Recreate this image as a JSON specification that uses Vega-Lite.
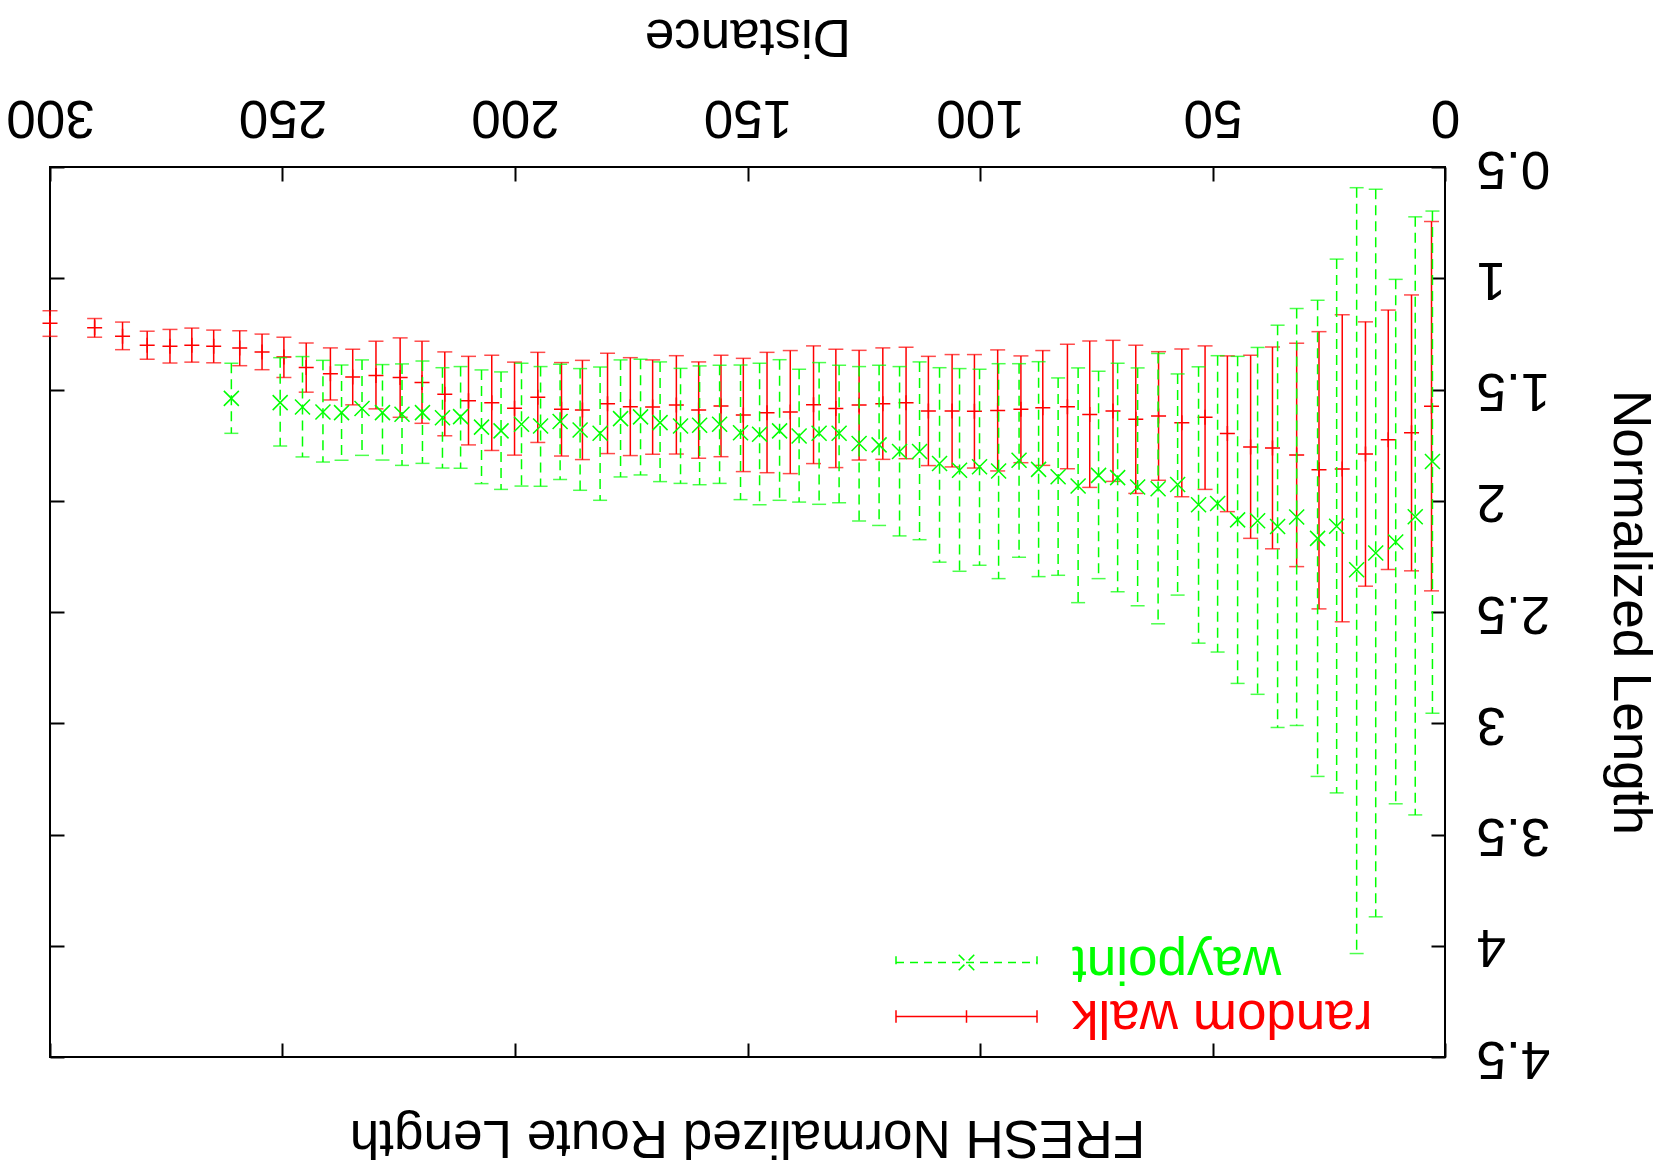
{
  "$schema": "https://vega.github.io/schema/vega-lite/v6.json",
  "width": 1395,
  "height": 890,
  "autosize": "none",
  "padding": {"left": 50, "top": 167, "right": 215, "bottom": 114},
  "config": {
    "view": {"stroke": "black", "strokeWidth": 2},
    "font": "Liberation Sans"
  },
  "title": {
    "text": "FRESH Normalized Route Length",
    "orient": "bottom",
    "angle": 180,
    "baseline": "middle",
    "offset": 54,
    "fontSize": 53,
    "fontWeight": "normal",
    "font": "Liberation Sans",
    "color": "black"
  },
  "data": {
    "values": [
      {"series": "random walk", "distance": 300, "mean": 1.202, "low": 1.146, "high": 1.261},
      {"series": "random walk", "distance": 290.4, "mean": 1.223, "low": 1.181, "high": 1.265},
      {"series": "random walk", "distance": 284.4, "mean": 1.261, "low": 1.197, "high": 1.321},
      {"series": "random walk", "distance": 279.1, "mean": 1.301, "low": 1.238, "high": 1.364},
      {"series": "random walk", "distance": 274.2, "mean": 1.306, "low": 1.23, "high": 1.381},
      {"series": "random walk", "distance": 269.5, "mean": 1.301, "low": 1.224, "high": 1.377},
      {"series": "random walk", "distance": 264.8, "mean": 1.306, "low": 1.233, "high": 1.38},
      {"series": "random walk", "distance": 259.2, "mean": 1.313, "low": 1.236, "high": 1.393},
      {"series": "random walk", "distance": 254.4, "mean": 1.331, "low": 1.251, "high": 1.411},
      {"series": "random walk", "distance": 249.7, "mean": 1.354, "low": 1.265, "high": 1.446},
      {"series": "random walk", "distance": 244.9, "mean": 1.401, "low": 1.291, "high": 1.512},
      {"series": "random walk", "distance": 239.7, "mean": 1.429, "low": 1.313, "high": 1.547},
      {"series": "random walk", "distance": 234.9, "mean": 1.444, "low": 1.319, "high": 1.569},
      {"series": "random walk", "distance": 229.9, "mean": 1.437, "low": 1.283, "high": 1.587},
      {"series": "random walk", "distance": 224.7, "mean": 1.446, "low": 1.268, "high": 1.625},
      {"series": "random walk", "distance": 220.0, "mean": 1.468, "low": 1.283, "high": 1.652},
      {"series": "random walk", "distance": 215.1, "mean": 1.521, "low": 1.331, "high": 1.708},
      {"series": "random walk", "distance": 210.0, "mean": 1.55, "low": 1.351, "high": 1.749},
      {"series": "random walk", "distance": 205.0, "mean": 1.56, "low": 1.346, "high": 1.774},
      {"series": "random walk", "distance": 200.1, "mean": 1.584, "low": 1.377, "high": 1.795},
      {"series": "random walk", "distance": 195.1, "mean": 1.535, "low": 1.333, "high": 1.738},
      {"series": "random walk", "distance": 190.0, "mean": 1.589, "low": 1.379, "high": 1.799},
      {"series": "random walk", "distance": 185.5, "mean": 1.592, "low": 1.369, "high": 1.815},
      {"series": "random walk", "distance": 180.1, "mean": 1.564, "low": 1.337, "high": 1.788},
      {"series": "random walk", "distance": 175.2, "mean": 1.577, "low": 1.357, "high": 1.797},
      {"series": "random walk", "distance": 170.4, "mean": 1.579, "low": 1.367, "high": 1.791},
      {"series": "random walk", "distance": 165.3, "mean": 1.57, "low": 1.348, "high": 1.79},
      {"series": "random walk", "distance": 160.5, "mean": 1.592, "low": 1.376, "high": 1.809},
      {"series": "random walk", "distance": 155.7, "mean": 1.574, "low": 1.346, "high": 1.802},
      {"series": "random walk", "distance": 150.9, "mean": 1.615, "low": 1.36, "high": 1.869},
      {"series": "random walk", "distance": 145.8, "mean": 1.604, "low": 1.333, "high": 1.874},
      {"series": "random walk", "distance": 140.8, "mean": 1.601, "low": 1.325, "high": 1.878},
      {"series": "random walk", "distance": 135.8, "mean": 1.568, "low": 1.304, "high": 1.833},
      {"series": "random walk", "distance": 131.0, "mean": 1.585, "low": 1.319, "high": 1.851},
      {"series": "random walk", "distance": 126.0, "mean": 1.57, "low": 1.324, "high": 1.817},
      {"series": "random walk", "distance": 120.9, "mean": 1.564, "low": 1.313, "high": 1.814},
      {"series": "random walk", "distance": 115.9, "mean": 1.559, "low": 1.31, "high": 1.811},
      {"series": "random walk", "distance": 111.1, "mean": 1.597, "low": 1.351, "high": 1.842},
      {"series": "random walk", "distance": 106.0, "mean": 1.597, "low": 1.343, "high": 1.848},
      {"series": "random walk", "distance": 101.2, "mean": 1.598, "low": 1.343, "high": 1.853},
      {"series": "random walk", "distance": 96.2, "mean": 1.594, "low": 1.322, "high": 1.866},
      {"series": "random walk", "distance": 91.2, "mean": 1.589, "low": 1.349, "high": 1.829},
      {"series": "random walk", "distance": 86.5, "mean": 1.582, "low": 1.325, "high": 1.841},
      {"series": "random walk", "distance": 81.2, "mean": 1.577, "low": 1.297, "high": 1.856},
      {"series": "random walk", "distance": 76.4, "mean": 1.612, "low": 1.282, "high": 1.94},
      {"series": "random walk", "distance": 71.4, "mean": 1.597, "low": 1.279, "high": 1.913},
      {"series": "random walk", "distance": 66.5, "mean": 1.634, "low": 1.301, "high": 1.967},
      {"series": "random walk", "distance": 61.6, "mean": 1.619, "low": 1.33, "high": 1.908},
      {"series": "random walk", "distance": 56.6, "mean": 1.649, "low": 1.318, "high": 1.982},
      {"series": "random walk", "distance": 51.6, "mean": 1.625, "low": 1.304, "high": 1.949},
      {"series": "random walk", "distance": 46.8, "mean": 1.698, "low": 1.349, "high": 2.049},
      {"series": "random walk", "distance": 41.8, "mean": 1.758, "low": 1.346, "high": 2.169},
      {"series": "random walk", "distance": 37.1, "mean": 1.763, "low": 1.309, "high": 2.216},
      {"series": "random walk", "distance": 31.9, "mean": 1.794, "low": 1.292, "high": 2.296},
      {"series": "random walk", "distance": 27.1, "mean": 1.861, "low": 1.24, "high": 2.486},
      {"series": "random walk", "distance": 22.1, "mean": 1.857, "low": 1.164, "high": 2.544},
      {"series": "random walk", "distance": 17.1, "mean": 1.79, "low": 1.196, "high": 2.384},
      {"series": "random walk", "distance": 12.2, "mean": 1.726, "low": 1.143, "high": 2.309},
      {"series": "random walk", "distance": 7.2, "mean": 1.694, "low": 1.075, "high": 2.315},
      {"series": "random walk", "distance": 2.9, "mean": 1.575, "low": 0.745, "high": 2.405},
      {"series": "waypoint", "distance": 261.0, "mean": 1.54, "low": 1.382, "high": 1.697},
      {"series": "waypoint", "distance": 250.5, "mean": 1.559, "low": 1.357, "high": 1.754},
      {"series": "waypoint", "distance": 245.7, "mean": 1.579, "low": 1.352, "high": 1.803},
      {"series": "waypoint", "distance": 241.3, "mean": 1.601, "low": 1.369, "high": 1.826},
      {"series": "waypoint", "distance": 237.3, "mean": 1.604, "low": 1.39, "high": 1.818},
      {"series": "waypoint", "distance": 232.9, "mean": 1.585, "low": 1.367, "high": 1.796},
      {"series": "waypoint", "distance": 228.5, "mean": 1.604, "low": 1.388, "high": 1.817},
      {"series": "waypoint", "distance": 224.3, "mean": 1.611, "low": 1.385, "high": 1.841},
      {"series": "waypoint", "distance": 219.9, "mean": 1.604, "low": 1.372, "high": 1.832},
      {"series": "waypoint", "distance": 215.6, "mean": 1.627, "low": 1.402, "high": 1.853},
      {"series": "waypoint", "distance": 211.7, "mean": 1.622, "low": 1.397, "high": 1.854},
      {"series": "waypoint", "distance": 207.2, "mean": 1.669, "low": 1.412, "high": 1.923},
      {"series": "waypoint", "distance": 203.0, "mean": 1.686, "low": 1.421, "high": 1.949},
      {"series": "waypoint", "distance": 198.6, "mean": 1.656, "low": 1.382, "high": 1.934},
      {"series": "waypoint", "distance": 194.5, "mean": 1.664, "low": 1.397, "high": 1.935},
      {"series": "waypoint", "distance": 190.3, "mean": 1.644, "low": 1.387, "high": 1.904},
      {"series": "waypoint", "distance": 186.0, "mean": 1.682, "low": 1.406, "high": 1.953},
      {"series": "waypoint", "distance": 181.7, "mean": 1.697, "low": 1.399, "high": 1.998},
      {"series": "waypoint", "distance": 177.3, "mean": 1.631, "low": 1.367, "high": 1.893},
      {"series": "waypoint", "distance": 173.0, "mean": 1.623, "low": 1.364, "high": 1.884},
      {"series": "waypoint", "distance": 168.8, "mean": 1.649, "low": 1.376, "high": 1.914},
      {"series": "waypoint", "distance": 164.4, "mean": 1.664, "low": 1.405, "high": 1.922},
      {"series": "waypoint", "distance": 160.3, "mean": 1.661, "low": 1.394, "high": 1.928},
      {"series": "waypoint", "distance": 156.0, "mean": 1.656, "low": 1.391, "high": 1.922},
      {"series": "waypoint", "distance": 151.5, "mean": 1.694, "low": 1.39, "high": 1.995},
      {"series": "waypoint", "distance": 147.4, "mean": 1.701, "low": 1.382, "high": 2.018},
      {"series": "waypoint", "distance": 143.1, "mean": 1.686, "low": 1.366, "high": 1.998},
      {"series": "waypoint", "distance": 138.9, "mean": 1.709, "low": 1.409, "high": 2.006},
      {"series": "waypoint", "distance": 134.6, "mean": 1.697, "low": 1.379, "high": 2.016},
      {"series": "waypoint", "distance": 130.3, "mean": 1.697, "low": 1.391, "high": 2.009},
      {"series": "waypoint", "distance": 126.0, "mean": 1.743, "low": 1.397, "high": 2.091},
      {"series": "waypoint", "distance": 121.7, "mean": 1.749, "low": 1.391, "high": 2.111},
      {"series": "waypoint", "distance": 117.3, "mean": 1.779, "low": 1.397, "high": 2.158},
      {"series": "waypoint", "distance": 113.0, "mean": 1.779, "low": 1.376, "high": 2.175},
      {"series": "waypoint", "distance": 108.7, "mean": 1.833, "low": 1.402, "high": 2.276},
      {"series": "waypoint", "distance": 104.4, "mean": 1.863, "low": 1.406, "high": 2.317},
      {"series": "waypoint", "distance": 100.1, "mean": 1.847, "low": 1.409, "high": 2.29},
      {"series": "waypoint", "distance": 96.0, "mean": 1.866, "low": 1.384, "high": 2.35},
      {"series": "waypoint", "distance": 91.6, "mean": 1.818, "low": 1.384, "high": 2.254},
      {"series": "waypoint", "distance": 87.4, "mean": 1.859, "low": 1.375, "high": 2.341},
      {"series": "waypoint", "distance": 83.2, "mean": 1.892, "low": 1.448, "high": 2.335},
      {"series": "waypoint", "distance": 78.9, "mean": 1.934, "low": 1.403, "high": 2.458},
      {"series": "waypoint", "distance": 74.5, "mean": 1.886, "low": 1.418, "high": 2.35},
      {"series": "waypoint", "distance": 70.4, "mean": 1.896, "low": 1.382, "high": 2.409},
      {"series": "waypoint", "distance": 66.1, "mean": 1.938, "low": 1.403, "high": 2.472},
      {"series": "waypoint", "distance": 61.7, "mean": 1.946, "low": 1.338, "high": 2.553},
      {"series": "waypoint", "distance": 57.5, "mean": 1.927, "low": 1.43, "high": 2.424},
      {"series": "waypoint", "distance": 53.0, "mean": 2.018, "low": 1.398, "high": 2.64},
      {"series": "waypoint", "distance": 48.9, "mean": 2.012, "low": 1.348, "high": 2.68},
      {"series": "waypoint", "distance": 44.6, "mean": 2.086, "low": 1.351, "high": 2.821},
      {"series": "waypoint", "distance": 40.3, "mean": 2.09, "low": 1.311, "high": 2.87},
      {"series": "waypoint", "distance": 36.0, "mean": 2.116, "low": 1.211, "high": 3.019},
      {"series": "waypoint", "distance": 31.9, "mean": 2.073, "low": 1.136, "high": 3.01},
      {"series": "waypoint", "distance": 27.4, "mean": 2.169, "low": 1.099, "high": 3.239},
      {"series": "waypoint", "distance": 23.3, "mean": 2.115, "low": 0.914, "high": 3.313},
      {"series": "waypoint", "distance": 19.0, "mean": 2.31, "low": 0.593, "high": 4.035},
      {"series": "waypoint", "distance": 14.9, "mean": 2.235, "low": 0.6, "high": 3.87},
      {"series": "waypoint", "distance": 10.6, "mean": 2.185, "low": 1.005, "high": 3.362},
      {"series": "waypoint", "distance": 6.4, "mean": 2.072, "low": 0.724, "high": 3.412},
      {"series": "waypoint", "distance": 2.7, "mean": 1.824, "low": 0.698, "high": 2.955}
    ]
  },
  "resolve": {"axis": {"x": "independent", "y": "independent"}},
  "layer": [
    {
      "transform": [{"filter": "datum.series === 'random walk'"}],
      "mark": {"type": "rule", "color": "#ff0000", "strokeWidth": 1.5},
      "encoding": {
        "x": {
          "field": "distance", "type": "quantitative",
          "scale": {"domain": [0, 300], "reverse": true, "nice": false, "zero": false},
          "axis": {
            "orient": "top", "values": [0, 50, 100, 150, 200, 250, 300], "format": "d",
            "grid": false, "domain": false,
            "tickSize": -14, "tickWidth": 2, "tickColor": "black",
            "labelAngle": 180, "labelAlign": "center", "labelBaseline": "middle",
            "labelPadding": 65, "labelFontSize": 53, "labelFont": "Liberation Sans", "labelColor": "black",
            "labelFlush": false, "labelOverlap": false, "labelBound": false,
            "title": "Distance", "titleAngle": 180, "titleFontSize": 53, "titleFont": "Liberation Sans",
            "titleFontWeight": "normal", "titleColor": "black", "titleBaseline": "middle", "titleAlign": "center", "titleY": -132
          }
        },
        "y": {
          "field": "low", "type": "quantitative",
          "scale": {"domain": [0.5, 4.5], "reverse": true, "nice": false, "zero": false},
          "axis": {
            "orient": "right", "values": [0.5, 1, 1.5, 2, 2.5, 3, 3.5, 4, 4.5], "format": "~g",
            "grid": false, "domain": false,
            "tickSize": -14, "tickWidth": 2, "tickColor": "black",
            "labelAngle": 180, "labelAlign": "right", "labelBaseline": "middle",
            "labelPadding": 45, "labelFontSize": 53, "labelFont": "Liberation Sans", "labelColor": "black",
            "labelFlush": false, "labelOverlap": false, "labelBound": false,
            "title": "Normalized Length", "titleAngle": 90, "titleFontSize": 53, "titleFont": "Liberation Sans",
            "titleFontWeight": "normal", "titleColor": "black", "titleBaseline": "middle", "titleAlign": "center", "titleX": 184
          }
        },
        "y2": {"field": "high"}
      }
    },
    {
      "transform": [{"filter": "datum.series === 'random walk'"}],
      "mark": {"type": "tick", "orient": "horizontal", "color": "#ff0000", "size": 15, "thickness": 1.5},
      "encoding": {
        "x": {"field": "distance", "type": "quantitative", "axis": null},
        "y": {"field": "low", "type": "quantitative", "axis": null}
      }
    },
    {
      "transform": [{"filter": "datum.series === 'random walk'"}],
      "mark": {"type": "tick", "orient": "horizontal", "color": "#ff0000", "size": 15, "thickness": 1.5},
      "encoding": {
        "x": {"field": "distance", "type": "quantitative", "axis": null},
        "y": {"field": "high", "type": "quantitative", "axis": null}
      }
    },
    {
      "transform": [{"filter": "datum.series === 'random walk'"}],
      "mark": {"type": "point", "shape": "M-1,0H1M0,-1V1", "filled": false, "stroke": "#ff0000", "strokeWidth": 1.5, "size": 225, "opacity": 1},
      "encoding": {
        "x": {"field": "distance", "type": "quantitative", "axis": null},
        "y": {"field": "mean", "type": "quantitative", "axis": null}
      }
    },
    {
      "transform": [{"filter": "datum.series === 'waypoint'"}],
      "mark": {"type": "rule", "color": "#00ff00", "strokeWidth": 1.5, "strokeDash": [10, 6]},
      "encoding": {
        "x": {
          "field": "distance", "type": "quantitative",
          "axis": {
            "orient": "bottom", "values": [0, 50, 100, 150, 200, 250, 300],
            "grid": false, "domain": false, "labels": false, "title": null,
            "tickSize": -14, "tickWidth": 2, "tickColor": "black"
          }
        },
        "y": {
          "field": "low", "type": "quantitative",
          "axis": {
            "orient": "left", "values": [0.5, 1, 1.5, 2, 2.5, 3, 3.5, 4, 4.5],
            "grid": false, "domain": false, "labels": false, "title": null,
            "tickSize": -14, "tickWidth": 2, "tickColor": "black"
          }
        },
        "y2": {"field": "high"}
      }
    },
    {
      "transform": [{"filter": "datum.series === 'waypoint'"}],
      "mark": {"type": "tick", "orient": "horizontal", "color": "#00ff00", "size": 14, "thickness": 1.5},
      "encoding": {
        "x": {"field": "distance", "type": "quantitative", "axis": null},
        "y": {"field": "low", "type": "quantitative", "axis": null}
      }
    },
    {
      "transform": [{"filter": "datum.series === 'waypoint'"}],
      "mark": {"type": "tick", "orient": "horizontal", "color": "#00ff00", "size": 14, "thickness": 1.5},
      "encoding": {
        "x": {"field": "distance", "type": "quantitative", "axis": null},
        "y": {"field": "high", "type": "quantitative", "axis": null}
      }
    },
    {
      "transform": [{"filter": "datum.series === 'waypoint'"}],
      "mark": {"type": "point", "shape": "M-1,-1L1,1M-1,1L1,-1", "filled": false, "stroke": "#00ff00", "strokeWidth": 1.5, "size": 225, "opacity": 1},
      "encoding": {
        "x": {"field": "distance", "type": "quantitative", "axis": null},
        "y": {"field": "mean", "type": "quantitative", "axis": null}
      }
    },
    {
      "transform": [{"filter": "false"}],
      "mark": {"type": "point", "filled": false, "strokeWidth": 1.5, "size": 19881},
      "encoding": {
        "x": {"field": "distance", "type": "quantitative", "axis": null},
        "y": {"field": "mean", "type": "quantitative", "axis": null},
        "color": {
          "field": "series", "type": "nominal",
          "scale": {"domain": ["waypoint", "random walk"], "range": ["#00ff00", "#ff0000"]},
          "legend": {
            "orient": "none", "legendX": 845, "legendY": 769, "title": null,
            "padding": 0, "rowPadding": 0, "clipHeight": 53,
            "symbolSize": 19881, "symbolStrokeWidth": 1.5, "symbolOffset": 0, "symbolOpacity": 1,
            "labelOffset": 34, "labelFontSize": 53, "labelFont": "Liberation Sans",
            "labelAlign": "right", "labelBaseline": "middle", "labelLimit": 600,
            "encoding": {
              "labels": {
                "angle": {"value": 180},
                "fill": {"condition": {"test": "datum.value === 'random walk'", "value": "#ff0000"}, "value": "#00ff00"}
              }
            }
          }
        },
        "shape": {
          "field": "series", "type": "nominal",
          "scale": {
            "domain": ["waypoint", "random walk"],
            "range": [
              "M-1,0H1M-1,-0.09V0.09M1,-0.09V0.09M-0.11,-0.11L0.11,0.11M-0.11,0.11L0.11,-0.11",
              "M-1,0H1M-1,-0.09V0.09M1,-0.09V0.09M0,-0.09V0.09"
            ]
          },
          "legend": {
            "orient": "none", "legendX": 845, "legendY": 769, "title": null,
            "padding": 0, "rowPadding": 0, "clipHeight": 53,
            "symbolSize": 19881, "symbolStrokeWidth": 1.5, "symbolOffset": 0, "symbolOpacity": 1,
            "labelOffset": 34, "labelFontSize": 53, "labelFont": "Liberation Sans",
            "labelAlign": "right", "labelBaseline": "middle", "labelLimit": 600
          }
        },
        "strokeDash": {
          "field": "series", "type": "nominal",
          "scale": {"domain": ["waypoint", "random walk"], "range": [[8, 6], [1, 0]]},
          "legend": {
            "orient": "none", "legendX": 845, "legendY": 769, "title": null,
            "padding": 0, "rowPadding": 0, "clipHeight": 53,
            "symbolSize": 19881, "symbolStrokeWidth": 1.5, "symbolOffset": 0, "symbolOpacity": 1,
            "labelOffset": 34, "labelFontSize": 53, "labelFont": "Liberation Sans",
            "labelAlign": "right", "labelBaseline": "middle", "labelLimit": 600
          }
        }
      }
    }
  ]
}
